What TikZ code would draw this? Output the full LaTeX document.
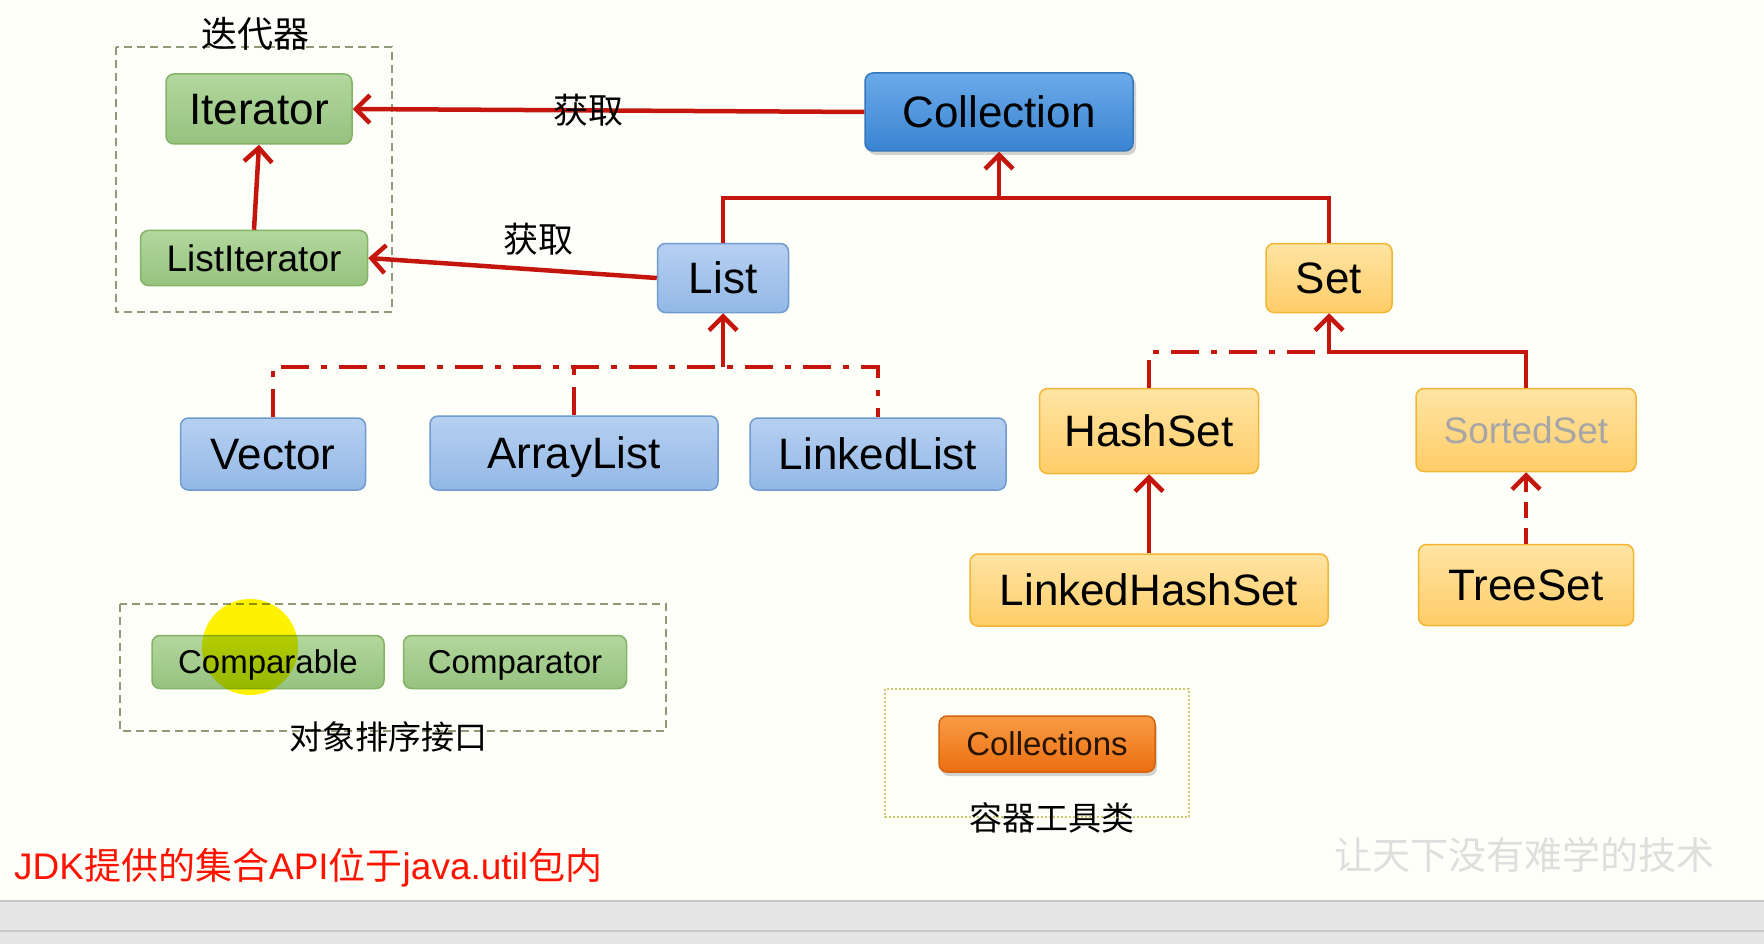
\documentclass[tikz,border=0pt]{standalone}
\usepackage{fontspec}
\setmainfont{Liberation Sans}
\newfontfamily\cjk{Noto Sans CJK SC}
\usetikzlibrary{arrows.meta,shadows,calc}

\definecolor{linkred}{HTML}{C4160C}
\definecolor{grntop}{HTML}{B3D79E}
\definecolor{grnbot}{HTML}{96C27E}
\definecolor{grnline}{HTML}{82B366}
\definecolor{blutop}{HTML}{B6D0F1}
\definecolor{blubot}{HTML}{93B8E6}
\definecolor{bluline}{HTML}{6F9BD0}
\definecolor{colltop}{HTML}{6AAAE9}
\definecolor{collbot}{HTML}{3A84D2}
\definecolor{yeltop}{HTML}{FFE4A3}
\definecolor{yelbot}{HTML}{FFCD68}
\definecolor{yelline}{HTML}{F2B634}
\definecolor{orgtop}{HTML}{F99C45}
\definecolor{orgbot}{HTML}{EC6E10}
\definecolor{groupline}{HTML}{8E9A78}

\begin{document}
\begin{tikzpicture}[x=1pt, y=-1pt,
  box/.style={rounded corners=8pt, draw, line width=1.5pt, inner sep=0pt, text depth=0pt},
  bigtext/.style={font=\fontsize{44}{48}\selectfont, text height=31.5pt},
  midtext/.style={font=\fontsize{37}{40}\selectfont, text height=26.5pt},
  smalltext/.style={font=\fontsize{33}{36}\selectfont, text height=23.6pt},
  greenbox/.style={box, draw=grnline, top color=grntop, bottom color=grnbot},
  bluebox/.style={box, draw=bluline, top color=blutop, bottom color=blubot, bigtext},
  yelbox/.style={box, draw=yelline, top color=yeltop, bottom color=yelbot},
  cjklbl/.style={font=\cjk\fontsize{35}{40}\selectfont, inner sep=0pt},
  rline/.style={draw=linkred, line width=4.5pt},
  arr/.style={rline, -{Straight Barb[length=14pt,width=28pt]}},
  dashdot/.style={rline, dash pattern=on 28pt off 12pt on 6pt off 12pt},
  groupbox/.style={draw=groupline, line width=1.5pt, dash pattern=on 8pt off 5pt},
]
\useasboundingbox (0,0) rectangle (1764,944);
% page and player bar
\fill[white!98!yellow] (0,0) rectangle (1764,900);
\fill[black!10] (0,900) rectangle (1764,944);
\draw[black!22, line width=2pt] (0,901) -- (1764,901);
\draw[black!22, line width=2pt] (0,931) -- (1764,931);

% group frames
\draw[groupbox] (116,47) rectangle (392,312);
\draw[groupbox] (120,604) rectangle (666,731);
\draw[draw=olive!45, line width=1.2pt, dash pattern=on 2pt off 2pt] (885,689) rectangle (1189,817);
\node[cjklbl, font=\cjk\fontsize{36}{40}\selectfont] (itertitle) at (255,34) {迭代器};
\node[cjklbl, font=\cjk\fontsize{33}{36}\selectfont] (cmptitle) at (388,737) {对象排序接口};
\node[cjklbl, font=\cjk\fontsize{33}{36}\selectfont] (utiltitle) at (1052,818) {容器工具类};

% interfaces and classes
\node[greenbox, bigtext, minimum width=186pt, minimum height=70pt] (iter) at (259,109) {Iterator};
\node[greenbox, midtext, minimum width=227pt, minimum height=55pt] (litr) at (254,258) {ListIterator};
\node[box, draw=collbot!90!black, top color=colltop, bottom color=collbot, bigtext,
  drop shadow={opacity=0.35, shadow xshift=3pt, shadow yshift=-4pt},
  minimum width=268pt, minimum height=78pt] (coll) at (999,112) {Collection};
\node[bluebox, minimum width=131pt, minimum height=69pt] (list) at (723,278) {List};
\node[yelbox, bigtext, minimum width=126pt, minimum height=69pt] (set) at (1329,278) {Set};
\node[bluebox, minimum width=185pt, minimum height=72pt] (vector) at (273,454) {Vector};
\node[bluebox, minimum width=288pt, minimum height=74pt] (alist) at (574,453) {ArrayList};
\node[bluebox, minimum width=256pt, minimum height=72pt] (llist) at (878,454) {LinkedList};
\node[yelbox, bigtext, minimum width=219pt, minimum height=85pt] (hset) at (1149,431) {HashSet};
\node[yelbox, midtext, text=black!35, minimum width=220pt, minimum height=83pt] (sset) at (1526,430) {SortedSet};
\node[yelbox, bigtext, minimum width=358pt, minimum height=72pt] (lhset) at (1149,590) {LinkedHashSet};
\node[yelbox, bigtext, minimum width=215pt, minimum height=81pt] (tset) at (1526,585) {TreeSet};
\node[greenbox, smalltext, minimum width=232pt, minimum height=53pt] (cmpb) at (268,662) {Comparable};
\node[greenbox, smalltext, minimum width=223pt, minimum height=53pt] (cmpt) at (515,662) {Comparator};
\node[box, draw=orgbot!90!black, top color=orgtop, bottom color=orgbot, smalltext, text=black!85!orange,
  drop shadow={opacity=0.35, shadow xshift=2pt, shadow yshift=-4pt},
  minimum width=216pt, minimum height=56pt] (colls) at (1047,744) {Collections};

% junctions
\coordinate (cj) at (999,198);
\coordinate (lj) at (723,367);
\coordinate (sj) at (1329,352);

% links
\draw[arr] (coll.west) -- node[cjklbl, pos=0.54] (get1) {获取} (iter.east);
\draw[arr] (list.west) -- node[cjklbl, above=12pt, pos=0.41] (get2) {获取} (litr.east);
\draw[arr] (litr.north) -- (iter.south);
\draw[rline] (list.north) |- (cj) -| (set.north);
\draw[arr] (cj) -- (coll.south);
\draw[dashdot] (vector.north) |- (lj) -| (llist.north);
\draw[dashdot] (alist.north) -- (alist.north |- lj);
\draw[arr] (lj) -- (list.south);
\draw[dashdot] (hset.north) |- (sj);
\draw[rline] (sj) -| (sset.north);
\draw[arr] (sj) -- (set.south);
\draw[arr] (lhset.north) -- (hset.south);
\draw[arr, dash pattern=on 16pt off 10pt] (tset.north) -- (sset.south);

% cursor highlight
\begin{scope}[blend mode=multiply]
  \fill[yellow] (250,647) circle (48);
\end{scope}

% notes
\node[anchor=west, inner sep=0pt, text={red!85!orange}, font=\fontsize{37}{40}\selectfont] (note) at (14,868)
  {JDK{\cjk 提供的集合}API{\cjk 位于}java.util{\cjk 包内}};
\node[cjklbl, text=black!13, font=\cjk\fontsize{38}{42}\selectfont] (mark) at (1524,855) {让天下没有难学的技术};
\end{tikzpicture}
\end{document}
